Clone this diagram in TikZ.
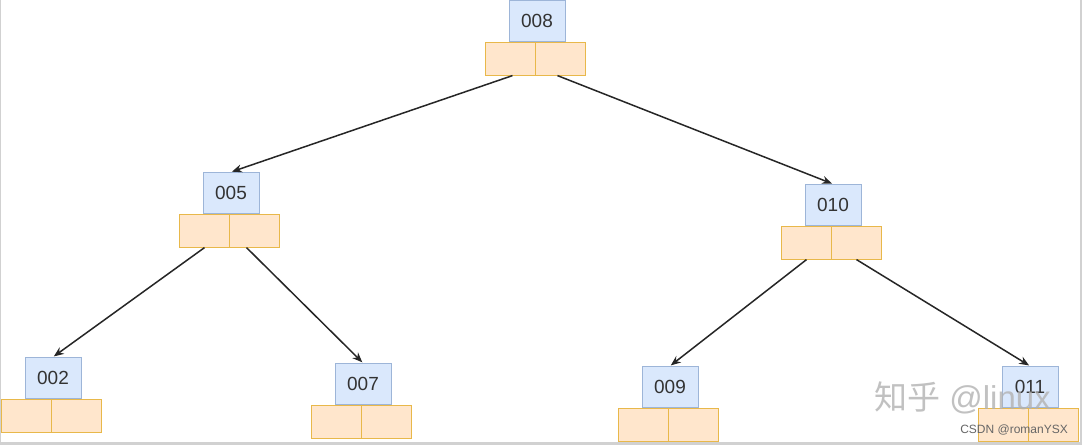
\documentclass[tikz,border=0pt]{standalone}
\usepackage{fontspec}
\setmainfont{Liberation Sans}
\newfontfamily\cjkfont{Noto Sans CJK SC}
\usetikzlibrary{arrows.meta}
\definecolor{bluefill}{HTML}{DAE8FC}
\definecolor{bluedraw}{HTML}{9DB5D8}
\definecolor{orfill}{HTML}{FFE6CC}
\definecolor{ordraw}{HTML}{E8B84A}
\definecolor{txt}{HTML}{333333}
\tikzset{
  keybox/.style={draw=bluedraw, fill=bluefill, line width=0.8pt, minimum width=56pt, minimum height=41pt, inner sep=0pt, anchor=north, text=txt, font=\fontsize{19}{21}\selectfont},
  ptrbox/.style={draw=ordraw, fill=orfill, line width=0.8pt, minimum width=50pt, minimum height=33pt, inner sep=0pt, anchor=north},
  link/.style={line width=1.5pt, black!85, -{Stealth[length=10pt,width=8pt]}, shorten >=1pt}
}
\newcommand\treekey[4]{%
  \node[keybox] (#1) at (#2,-#3) {#4};
  \node[ptrbox] (#1l) at ([xshift=-26.5pt]#1.south) {};
  \node[ptrbox] (#1r) at ([xshift=23.5pt]#1.south) {};
}
\begin{document}
\begin{tikzpicture}[x=1pt,y=1pt]
\fill[black!18] (0,0) rectangle (1082,-445);
\fill[white] (1,0) rectangle (1080,-442);
\useasboundingbox (0,0) rectangle (1082,-445);
\treekey{k008}{537pt}{0pt}{008}
\treekey{k005}{231pt}{172pt}{005}
\treekey{k010}{833pt}{184pt}{010}
\treekey{k002}{53pt}{357pt}{002}
\treekey{k007}{363pt}{363pt}{007}
\treekey{k009}{670pt}{366pt}{009}
\treekey{k011}{1030pt}{366pt}{011}
\draw[link] ([xshift=2pt]k008l.south) -- (k005.north);
\draw[link] ([xshift=-3pt]k008r.south) -- (k010.north);
\draw[link] (k005l.south) -- (k002.north);
\draw[link] ([xshift=-8pt]k005r.south) -- (k007.north);
\draw[link] (k010l.south) -- (k009.north);
\draw[link] (k010r.south) -- (k011.north);
\node[anchor=west, text=black!30, opacity=0.8, inner sep=0pt, font=\fontsize{33}{35}\selectfont] (wm) at (874,-398) {{\cjkfont 知乎} @linux};
\node[anchor=east, text=black!60, inner sep=0pt, font=\fontsize{12}{14}\selectfont] (csdn) at (1068,-430) {CSDN @romanYSX};
\end{tikzpicture}
\end{document}
